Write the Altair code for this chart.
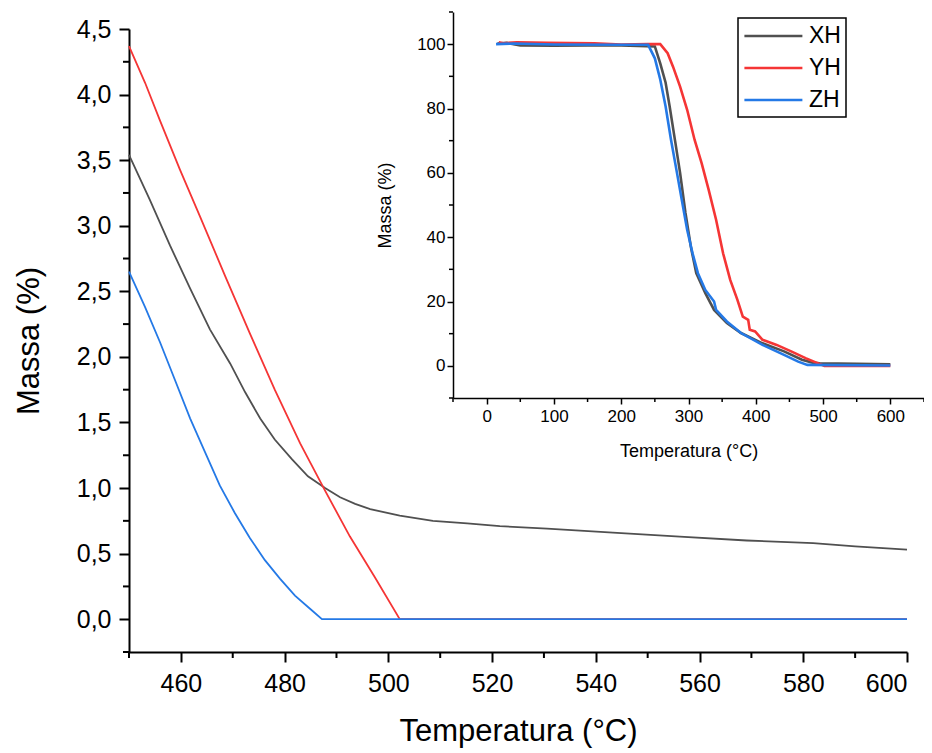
import altair as alt
import pandas as pd

# ---------------- data ----------------
series = ["XH", "YH", "ZH"]
colors = ["#505050", "#f53535", "#2479e6"]

# main chart (zoom 450-600 C)
xh_t = [450, 454.0, 457.9, 461.8, 465.6, 469.5, 472.4, 475.3, 478.1, 481.4, 484.5, 487.8,
        490.7, 493.6, 496.5, 502.2, 508.6, 515.2, 521.5, 530.6, 543.3, 556.2, 569.1,
        581.9, 590, 600]
xh_m = [3.54, 3.20, 2.85, 2.52, 2.21, 1.95, 1.73, 1.53, 1.37, 1.22, 1.09, 1.00,
        0.93, 0.88, 0.84, 0.79, 0.75, 0.73, 0.71, 0.69, 0.66, 0.63, 0.60,
        0.58, 0.555, 0.53]
yh_t = [450, 453.1, 456.0, 459.8, 463.7, 468.5, 473.3, 478.1, 483.0, 487.8, 492.6, 497.4,
        502.2, 600]
yh_m = [4.37, 4.09, 3.80, 3.43, 3.07, 2.62, 2.18, 1.75, 1.34, 0.98, 0.63, 0.32,
        0.0, 0.0]
zh_t = [450, 453.1, 456.0, 458.9, 461.8, 464.7, 467.5, 470.4, 473.3, 476.2, 479.1, 482.0,
        484.9, 487.2, 600]
zh_m = [2.65, 2.38, 2.11, 1.82, 1.53, 1.27, 1.02, 0.81, 0.62, 0.45, 0.31, 0.18,
        0.08, 0.0, 0.0]

# inset (full TGA curve)
ixh_t = [16, 30, 50, 100, 150, 200, 250, 258, 266, 272, 280, 287.5, 295.5, 303.5, 311.5,
         325, 338, 357, 378, 410, 442, 468.6, 484.5, 495, 550, 600]
ixh_m = [100.2, 100.4, 99.6, 99.5, 99.6, 99.6, 99.3, 94, 88, 80.6, 70, 60, 47.5, 37, 28.8,
         22.6, 17.4, 13.3, 10.2, 7, 4.5, 1.9, 1.0, 0.8, 0.65, 0.5]
iyh_t = [18, 25, 45, 90, 160, 200, 240, 258, 269, 277, 287.5, 298, 309, 319.5, 330, 341,
         351.4, 362, 372.7, 380.7, 388.7, 391, 399, 410, 431, 452.6, 474, 490, 502, 600]
iyh_m = [100.6, 100.3, 100.6, 100.4, 100.3, 99.9, 100, 100, 97.2, 93, 86.8, 79.6, 70.3, 63,
         54.7, 45.4, 35, 26.7, 20.5, 15.3, 14.3, 11.2, 10.7, 8.1, 6.5, 4.5, 2.4, 1.0, 0.0, 0.0]
izh_t = [14, 40, 100, 200, 240, 250, 258, 266, 274, 282, 290, 298, 306, 314, 325, 338, 341,
         357, 378, 410, 442, 463, 476.6, 600]
izh_m = [100, 100.2, 99.9, 99.8, 99.8, 95.6, 89, 80.6, 70.3, 61, 51.6, 42.3, 35, 28.8, 23.6,
         20, 17.4, 13.8, 10.2, 6.5, 3.4, 1.3, 0.3, 0.1]

# ticks
main_x_major = [460, 480, 500, 520, 540, 560, 580, 600]
main_x_minor = [450, 470, 490, 510, 530, 550, 570, 590]
main_y_major = [0, 0.5, 1.0, 1.5, 2.0, 2.5, 3.0, 3.5, 4.0, 4.5]
main_y_minor = [-0.25, 0.25, 0.75, 1.25, 1.75, 2.25, 2.75, 3.25, 3.75, 4.25]
ins_x_major = [0, 100, 200, 300, 400, 500, 600]
ins_x_minor = [-50, 50, 150, 250, 350, 450, 550, 650]
ins_y_major = [0, 20, 40, 60, 80, 100]
ins_y_minor = [-10, 10, 30, 50, 70, 90, 110]

# ---------------- layout ----------------
FONT = "Liberation Sans"
W, H = 778, 623
INX = [324, 795]      # inset x range (plot-area pixels)
INY = [369, -17]      # inset y range (plot-area pixels)


def frame(t, m, name):
    return pd.DataFrame({"T": t, "m": m, "s": name})


main_df = pd.concat([frame(xh_t, xh_m, "XH"), frame(yh_t, yh_m, "YH"), frame(zh_t, zh_m, "ZH")])
ins_df = pd.concat([frame(ixh_t, ixh_m, "XH"), frame(iyh_t, iyh_m, "YH"), frame(izh_t, izh_m, "ZH")])

color_scale = alt.Scale(domain=series, range=colors)
legend = alt.Legend(
    title=None, orient="none", legendX=609, legendY=-11,
    symbolType="M-1,0H4", symbolSize=538, symbolStrokeWidth=2.5,
    labelFont=FONT, labelFontSize=23, labelColor="black", labelOffset=40,
    rowPadding=7, padding=5, strokeColor="black")
color = alt.Color("s:N", scale=color_scale, legend=legend)

common_axis = dict(grid=False, domainColor="black", tickColor="black", labelColor="black",
                   titleColor="black", labelFont=FONT, titleFont=FONT, titleFontWeight="normal")

main_x_axis = alt.Axis(values=main_x_major, title="Temperatura (°C)", labelFontSize=25,
                       titleFontSize=31, tickSize=10, tickWidth=2, domainWidth=2,
                       labelPadding=9, titlePadding=20, **common_axis)
main_y_axis = alt.Axis(values=main_y_major, title="Massa (%)",
                       labelExpr="replace(format(datum.value, '.1f'), '.', ',')",
                       labelFontSize=25, titleFontSize=31, tickSize=10, tickWidth=2,
                       domainWidth=2, labelPadding=8, titlePadding=31, **common_axis)

xs = alt.Scale(domain=[450, 600], nice=False, zero=False)
ys = alt.Scale(domain=[-0.25, 4.5], nice=False, zero=False)

main_lines = alt.Chart(main_df).mark_line(strokeWidth=1.8).encode(
    x=alt.X("T:Q", scale=xs, axis=main_x_axis),
    y=alt.Y("m:Q", scale=ys, axis=main_y_axis),
    color=color,
)
main_minor_x = alt.Chart(pd.DataFrame({"T": main_x_minor})).mark_rule(
    color="black", strokeWidth=2).encode(
    x=alt.X("T:Q", scale=xs, axis=main_x_axis),
    y=alt.value(H), y2=alt.value(H + 6))
main_minor_y = alt.Chart(pd.DataFrame({"m": main_y_minor})).mark_rule(
    color="black", strokeWidth=2).encode(
    y=alt.Y("m:Q", scale=ys, axis=main_y_axis),
    x=alt.value(-6), x2=alt.value(0))
main = alt.layer(main_lines, main_minor_x, main_minor_y)

ixs = alt.Scale(domain=[-50, 650], range=INX, nice=False, zero=False)
iys = alt.Scale(domain=[-10, 110], range=INY, nice=False, zero=False)

ins_x_axis = alt.Axis(values=ins_x_major, title="Temperatura (°C)", orient="bottom",
                      offset=-(H - INY[0]), labelFontSize=17, titleFontSize=18,
                      tickSize=6, tickWidth=1.5, domainWidth=1.5, labelPadding=4,
                      titlePadding=18, **common_axis)
ins_y_axis = alt.Axis(values=ins_y_major, title="Massa (%)", orient="left",
                      offset=-INX[0], labelFontSize=17, titleFontSize=18,
                      tickSize=6, tickWidth=1.5, domainWidth=1.5, labelPadding=2,
                      titlePadding=22, **common_axis)

ins_lines = alt.Chart(ins_df).mark_line(strokeWidth=2.6).encode(
    x=alt.X("T:Q", scale=ixs, axis=ins_x_axis),
    y=alt.Y("m:Q", scale=iys, axis=ins_y_axis),
    color=color,
)
ins_minor_x = alt.Chart(pd.DataFrame({"T": ins_x_minor})).mark_rule(
    color="black", strokeWidth=1.5).encode(
    x=alt.X("T:Q", scale=ixs, axis=ins_x_axis),
    y=alt.value(INY[0]), y2=alt.value(INY[0] + 4))
ins_minor_y = alt.Chart(pd.DataFrame({"m": ins_y_minor})).mark_rule(
    color="black", strokeWidth=1.5).encode(
    y=alt.Y("m:Q", scale=iys, axis=ins_y_axis),
    x=alt.value(INX[0] - 4), x2=alt.value(INX[0]))
inset = alt.layer(ins_lines, ins_minor_x, ins_minor_y)

chart = alt.layer(main, inset).resolve_scale(
    x="independent", y="independent"
).properties(
    width=W, height=H,
    padding={"left": 121, "top": 21, "right": 17, "bottom": 100},
    autosize=alt.AutoSizeParams(type="none"),
    background="white",
).configure_view(stroke=None).configure_legend(strokeWidth=1.5)

chart.save("out.html", embed_options={"renderer": "svg", "actions": False})
